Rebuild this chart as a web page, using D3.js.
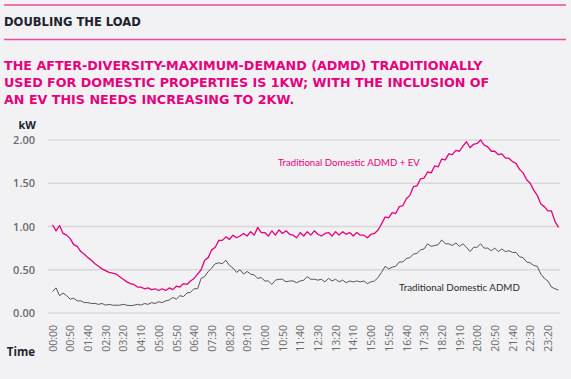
<!DOCTYPE html>
<html>
<head>
<meta charset="utf-8">
<script src="https://cdn.jsdelivr.net/npm/d3@7"></script>
<style>
  html, body { margin: 0; padding: 0; background: #f2f2f4; }
  svg { display: block; }
</style>
</head>
<body>
<svg id="chart" width="571" height="379"></svg>
<script>
// ---------- DATA ----------
const kicker = "DOUBLING THE LOAD";
const headline = [
  "THE AFTER-DIVERSITY-MAXIMUM-DEMAND (ADMD) TRADITIONALLY",
  "USED FOR DOMESTIC PROPERTIES IS 1KW; WITH THE INCLUSION OF",
  "AN EV THIS NEEDS INCREASING TO 2KW."
];
const yUnit = "kW";
const xTitle = "Time";
const yTicks = [0, 0.5, 1, 1.5, 2];

// 10-minute categories 00:00 .. 23:50
const times = d3.range(0, 1440, 10).map(m =>
  String(Math.floor(m / 60)).padStart(2, "0") + ":" + String(m % 60).padStart(2, "0"));

const tickLabels = ["00:00","00:50","01:40","02:30","03:20","04:10","05:00","05:50","06:40",
  "07:30","08:20","09:10","10:00","10:50","11:40","12:30","13:20","14:10","15:00","15:50",
  "16:40","17:30","18:20","19:10","20:00","20:50","21:40","22:30","23:20"];

const seriesEVName = "Traditional Domestic ADMD + EV";
const seriesEV = [
  1.02,0.95,1.01,0.92,0.90,0.86,0.79,0.77,0.71,0.68,
  0.64,0.61,0.57,0.54,0.51,0.49,0.47,0.46,0.45,0.42,
  0.39,0.36,0.34,0.33,0.30,0.30,0.28,0.29,0.27,0.28,
  0.26,0.28,0.26,0.29,0.27,0.31,0.30,0.34,0.33,0.37,
  0.40,0.45,0.50,0.61,0.64,0.73,0.76,0.84,0.84,0.88,
  0.85,0.90,0.87,0.89,0.92,0.89,0.94,0.90,0.99,0.93,
  0.93,0.89,0.95,0.90,0.96,0.92,0.95,0.91,0.90,0.87,
  0.93,0.89,0.94,0.90,0.95,0.91,0.89,0.92,0.93,0.89,
  0.94,0.90,0.94,0.91,0.93,0.89,0.93,0.90,0.90,0.87,
  0.91,0.92,0.96,1.03,1.11,1.10,1.16,1.15,1.23,1.24,
  1.32,1.36,1.46,1.47,1.55,1.56,1.63,1.62,1.70,1.69,
  1.78,1.77,1.84,1.83,1.88,1.87,1.93,1.98,1.91,1.95,
  1.96,2.00,1.94,1.92,1.87,1.87,1.83,1.84,1.79,1.79,
  1.75,1.73,1.66,1.62,1.54,1.50,1.42,1.36,1.26,1.23,
  1.18,1.18,1.06,0.99
];

const seriesBaseName = "Traditional Domestic ADMD";
const seriesBase = [
  0.25,0.29,0.20,0.23,0.20,0.16,0.17,0.14,0.14,0.12,
  0.12,0.11,0.11,0.10,0.11,0.09,0.10,0.09,0.09,0.09,
  0.10,0.09,0.085,0.09,0.10,0.09,0.11,0.10,0.12,0.11,
  0.13,0.12,0.14,0.15,0.18,0.16,0.20,0.19,0.23,0.24,
  0.28,0.28,0.40,0.42,0.48,0.52,0.57,0.58,0.57,0.61,
  0.55,0.52,0.47,0.50,0.45,0.48,0.45,0.44,0.40,0.41,
  0.37,0.37,0.33,0.38,0.39,0.39,0.36,0.37,0.37,0.35,
  0.37,0.38,0.42,0.39,0.39,0.38,0.39,0.36,0.40,0.37,
  0.39,0.36,0.38,0.35,0.37,0.36,0.37,0.36,0.37,0.34,
  0.36,0.37,0.41,0.47,0.54,0.51,0.53,0.54,0.59,0.59,
  0.63,0.64,0.68,0.69,0.73,0.74,0.80,0.77,0.78,0.79,
  0.845,0.80,0.80,0.78,0.81,0.77,0.80,0.76,0.71,0.76,
  0.76,0.80,0.75,0.75,0.72,0.75,0.71,0.74,0.71,0.72,
  0.70,0.70,0.65,0.64,0.59,0.58,0.55,0.54,0.45,0.40,
  0.37,0.30,0.28,0.265
];

// ---------- STYLE / LAYOUT ----------
const PINK = "#e6007e";
const DARK = "#1f2330";
const GREY_TXT = "#6a6a6a";
const svg = d3.select("#chart");

function fitWidth(sel, target) {
  const w = sel.node().getComputedTextLength();
  const fs = parseFloat(sel.attr("font-size"));
  const nfs = fs * target / w;
  sel.attr("font-size", nfs);
  return nfs;
}

// header rules
svg.append("line").attr("x1", 4).attr("x2", 566).attr("y1", 5).attr("y2", 5)
  .attr("stroke", "#ec4a9c").attr("stroke-width", 1.3);
svg.append("line").attr("x1", 4).attr("x2", 566).attr("y1", 39.5).attr("y2", 39.5)
  .attr("stroke", "#ec4a9c").attr("stroke-width", 1.3);

const k = svg.append("text").attr("x", 4).attr("y", 26)
  .attr("font-family", "DejaVu Sans").attr("font-weight", "bold")
  .attr("font-size", 13).attr("fill", DARK).text(kicker);
fitWidth(k, 137);

const hl = svg.append("g");
let hfs = null;
headline.forEach((t, i) => {
  const tx = hl.append("text").attr("x", 4).attr("y", 70 + i * 17.2)
    .attr("font-family", "DejaVu Sans").attr("font-weight", "bold")
    .attr("font-size", 14).attr("fill", PINK).text(t);
  if (i === 0) hfs = fitWidth(tx, 479);
  else tx.attr("font-size", hfs);
});

// scales
const x = d3.scalePoint().domain(times).range([52.5, 558.5]);
const y = d3.scaleLinear().domain([0, 2]).range([313, 140]);

// grid
svg.append("g").selectAll("line").data(yTicks).join("line")
  .attr("x1", 48).attr("x2", 560)
  .attr("y1", d => y(d)).attr("y2", d => y(d))
  .attr("stroke", "#d8d8da").attr("stroke-width", 1.5);

// y axis
const yAxis = svg.append("g").attr("transform", "translate(38,0)")
  .call(d3.axisLeft(y).tickValues(yTicks).tickFormat(d3.format(".2f")).tickSize(0).tickPadding(3));
yAxis.select(".domain").remove();
yAxis.selectAll("text").attr("font-family", "Open Sans").attr("font-weight", 600)
  .attr("font-size", 11).attr("fill", GREY_TXT);

// x axis
const xAxis = svg.append("g").attr("transform", "translate(0,322)")
  .call(d3.axisBottom(x).tickValues(tickLabels).tickSize(0).tickPadding(0));
xAxis.select(".domain").remove();
xAxis.selectAll("text")
  .attr("font-family", "Open Sans").attr("font-size", 10.5).attr("fill", GREY_TXT)
  .attr("text-anchor", "end").attr("dy", "0.35em")
  .attr("transform", "translate(0,3) rotate(-90)")
  .attr("x", 0).attr("y", 0);

// axis titles
svg.append("text").attr("x", 36).attr("y", 129).attr("text-anchor", "end")
  .attr("font-family", "Open Sans").attr("font-weight", "bold").attr("font-size", 11)
  .attr("fill", DARK).text(yUnit);
svg.append("text").attr("x", 35).attr("y", 356).attr("text-anchor", "end")
  .attr("font-family", "Open Sans").attr("font-weight", "bold").attr("font-size", 11.5)
  .attr("fill", DARK).text(xTitle);

// lines
const line = d3.line().x((d, i) => x(times[i])).y(d => y(d));
svg.append("path").datum(seriesBase).attr("d", line)
  .attr("fill", "none").attr("stroke", "#555558").attr("stroke-width", 1).attr("stroke-linejoin", "round");
svg.append("path").datum(seriesEV).attr("d", line)
  .attr("fill", "none").attr("stroke", PINK).attr("stroke-width", 1.3).attr("stroke-linejoin", "round");

// series labels
const l1 = svg.append("text").attr("x", 278).attr("y", 166)
  .attr("font-family", "Lato").attr("font-size", 10.5).attr("fill", PINK).text(seriesEVName);
fitWidth(l1, 142);
const l2 = svg.append("text").attr("x", 399).attr("y", 291)
  .attr("font-family", "Lato").attr("font-size", 10.5).attr("fill", "#2a2a33").text(seriesBaseName);
fitWidth(l2, 121);
</script>
</body>
</html>
